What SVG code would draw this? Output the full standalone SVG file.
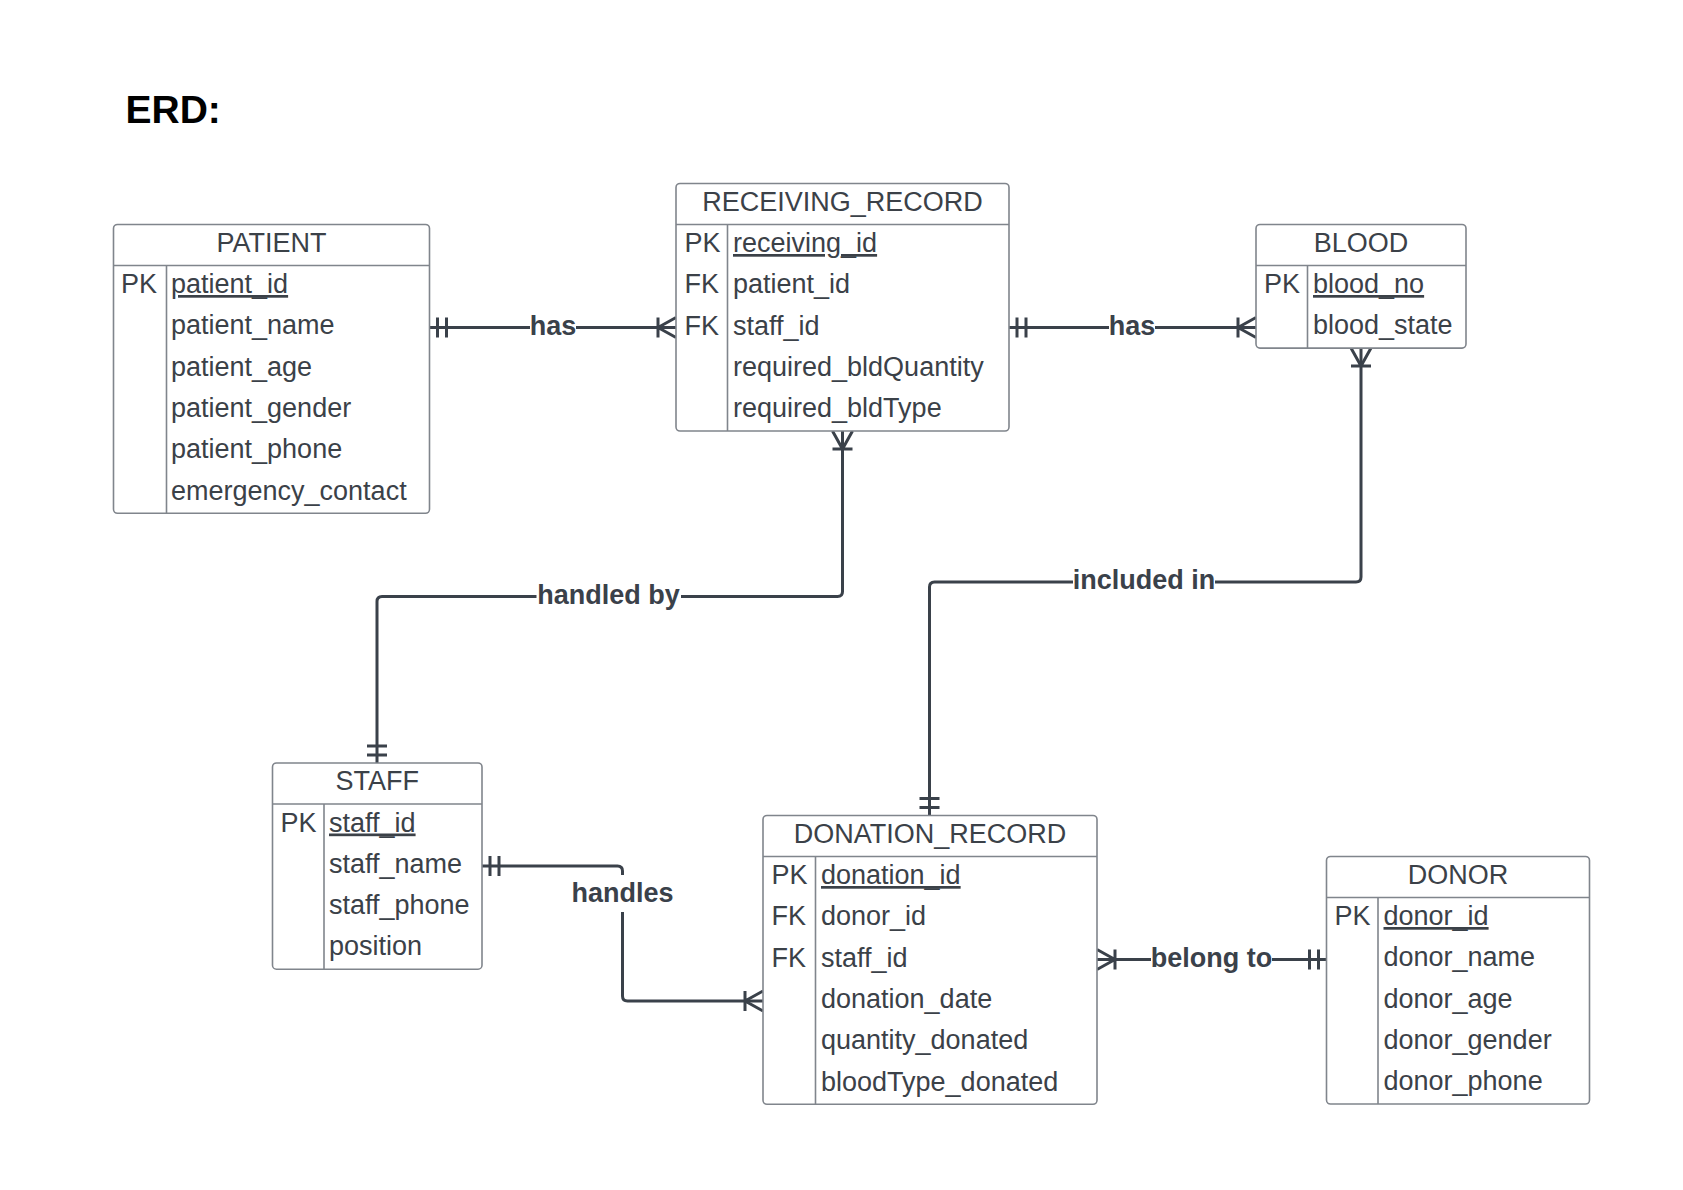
<svg xmlns="http://www.w3.org/2000/svg" xmlns:xlink="http://www.w3.org/1999/xlink" width="1683" height="1190" viewBox="0 0 1683 1190">
<style>
.box{fill:#ffffff;stroke:#80858c;stroke-width:1.6}
.div{stroke:#80858c;stroke-width:1.6;fill:none}
.t{font-family:"Liberation Sans",Arial,sans-serif;font-size:27px;fill:#3b4148}
.h{text-anchor:middle}
.pk{text-decoration:underline}
.cn{fill:none;stroke:#3a414a;stroke-width:3;stroke-linejoin:round}
.lbl{font-family:"Liberation Sans",Arial,sans-serif;font-size:27px;font-weight:bold;fill:#3a414a;text-anchor:middle}
.title{font-family:"Liberation Sans",Arial,sans-serif;font-size:39px;font-weight:bold;fill:#000000}
</style>
<defs>
<path id="one" class="cn" d="M8,-10V10M17,-10V10"/>
<path id="many" class="cn" d="M0,-10L18,0L0,10M18,-10V10"/>
</defs>
<rect x="0" y="0" width="1683" height="1190" fill="#ffffff"/>
<text class="title" x="125.5" y="122.5">ERD:</text>

<g id="connectors">
  <!-- PATIENT - RECEIVING_RECORD : has -->
  <path class="cn" d="M429.5,327.5H530M576,327.5H676"/>
  <use xlink:href="#one" transform="translate(429.5,327.5)"/>
  <use xlink:href="#many" transform="translate(676,327.5) rotate(180)"/>
  <text class="lbl" x="553" y="334.5">has</text>

  <!-- RECEIVING_RECORD - BLOOD : has -->
  <path class="cn" d="M1009,327.5H1109M1155,327.5H1256"/>
  <use xlink:href="#one" transform="translate(1009,327.5)"/>
  <use xlink:href="#many" transform="translate(1256,327.5) rotate(180)"/>
  <text class="lbl" x="1132" y="334.5">has</text>

  <!-- RECEIVING_RECORD - STAFF : handled by -->
  <path class="cn" d="M842.5,431V591.5Q842.5,596.5 837.5,596.5H681M536.5,596.5H382Q377,596.5 377,601.5V763"/>
  <use xlink:href="#many" transform="translate(842.5,431) rotate(90)"/>
  <use xlink:href="#one" transform="translate(377,763) rotate(-90)"/>
  <text class="lbl" x="608.5" y="603.5">handled by</text>

  <!-- BLOOD - DONATION_RECORD : included in -->
  <path class="cn" d="M1361,348V577Q1361,582 1356,582H1215M1073,582H934.5Q929.5,582 929.5,587V815.5"/>
  <use xlink:href="#many" transform="translate(1361,348) rotate(90)"/>
  <use xlink:href="#one" transform="translate(929.5,815.5) rotate(-90)"/>
  <text class="lbl" x="1144" y="589">included in</text>

  <!-- STAFF - DONATION_RECORD : handles -->
  <path class="cn" d="M482,866H617.5Q622.5,866 622.5,871V875M622.5,912V996Q622.5,1001 627.5,1001H763"/>
  <use xlink:href="#one" transform="translate(482,866)"/>
  <use xlink:href="#many" transform="translate(763,1001) rotate(180)"/>
  <text class="lbl" x="622.5" y="901.5">handles</text>

  <!-- DONATION_RECORD - DONOR : belong to -->
  <path class="cn" d="M1097,959.5H1151M1272,959.5H1326.5"/>
  <use xlink:href="#many" transform="translate(1097,959.5)"/>
  <use xlink:href="#one" transform="translate(1326.5,959.5) rotate(180)"/>
  <text class="lbl" x="1211.5" y="966.5">belong to</text>
</g>

<g id="patient">
  <rect class="box" x="113.5" y="224.5" width="316" height="288.8" rx="4"/>
  <path class="div" d="M113.5,265.5H429.5M166.5,265.5V513.3"/>
  <text class="t h" x="271.5" y="251.5">PATIENT</text>
  <text class="t" x="121" y="293">PK</text>
  <text class="t pk" x="171" y="293">patient_id</text>
  <text class="t" x="171" y="334.3">patient_name</text>
  <text class="t" x="171" y="375.6">patient_age</text>
  <text class="t" x="171" y="416.9">patient_gender</text>
  <text class="t" x="171" y="458.2">patient_phone</text>
  <text class="t" x="171" y="499.5">emergency_contact</text>
</g>

<g id="receiving_record">
  <rect class="box" x="676" y="183.5" width="333" height="247.5" rx="4"/>
  <path class="div" d="M676,224.5H1009M727.5,224.5V431"/>
  <text class="t h" x="842.5" y="210.5">RECEIVING_RECORD</text>
  <text class="t" x="684.5" y="252">PK</text>
  <text class="t pk" x="733" y="252">receiving_id</text>
  <text class="t" x="684.5" y="293.3">FK</text>
  <text class="t" x="733" y="293.3">patient_id</text>
  <text class="t" x="684.5" y="334.6">FK</text>
  <text class="t" x="733" y="334.6">staff_id</text>
  <text class="t" x="733" y="375.9">required_bldQuantity</text>
  <text class="t" x="733" y="417.2">required_bldType</text>
</g>

<g id="blood">
  <rect class="box" x="1256" y="224.5" width="210" height="123.6" rx="4"/>
  <path class="div" d="M1256,265.5H1466M1307.5,265.5V348.1"/>
  <text class="t h" x="1361" y="251.5">BLOOD</text>
  <text class="t" x="1264" y="293">PK</text>
  <text class="t pk" x="1313" y="293">blood_no</text>
  <text class="t" x="1313" y="334.3">blood_state</text>
</g>

<g id="staff">
  <rect class="box" x="272.5" y="763" width="209.5" height="206.2" rx="4"/>
  <path class="div" d="M272.5,804H482M324,804V969.2"/>
  <text class="t h" x="377.25" y="790">STAFF</text>
  <text class="t" x="280.5" y="831.5">PK</text>
  <text class="t pk" x="329" y="831.5">staff_id</text>
  <text class="t" x="329" y="872.8">staff_name</text>
  <text class="t" x="329" y="914.1">staff_phone</text>
  <text class="t" x="329" y="955.4">position</text>
</g>

<g id="donation_record">
  <rect class="box" x="763" y="815.5" width="334" height="288.8" rx="4"/>
  <path class="div" d="M763,856.5H1097M815.5,856.5V1104.3"/>
  <text class="t h" x="930" y="842.5">DONATION_RECORD</text>
  <text class="t" x="771.5" y="884">PK</text>
  <text class="t pk" x="821" y="884">donation_id</text>
  <text class="t" x="771.5" y="925.3">FK</text>
  <text class="t" x="821" y="925.3">donor_id</text>
  <text class="t" x="771.5" y="966.6">FK</text>
  <text class="t" x="821" y="966.6">staff_id</text>
  <text class="t" x="821" y="1007.9">donation_date</text>
  <text class="t" x="821" y="1049.2">quantity_donated</text>
  <text class="t" x="821" y="1090.5">bloodType_donated</text>
</g>

<g id="donor">
  <rect class="box" x="1326.5" y="856.5" width="263" height="247.5" rx="4"/>
  <path class="div" d="M1326.5,897.5H1589.5M1378,897.5V1104"/>
  <text class="t h" x="1458" y="883.5">DONOR</text>
  <text class="t" x="1334.5" y="925">PK</text>
  <text class="t pk" x="1383.5" y="925">donor_id</text>
  <text class="t" x="1383.5" y="966.3">donor_name</text>
  <text class="t" x="1383.5" y="1007.6">donor_age</text>
  <text class="t" x="1383.5" y="1048.9">donor_gender</text>
  <text class="t" x="1383.5" y="1090.2">donor_phone</text>
</g>
</svg>
